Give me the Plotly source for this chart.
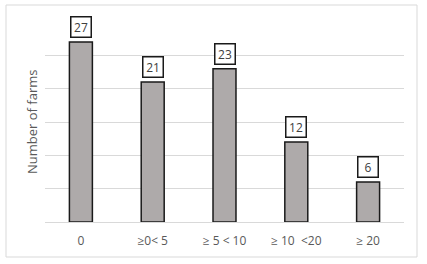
import plotly.graph_objects as go

categories = ["0", "≥0< 5", "≥ 5 < 10", "≥ 10\u00a0\u00a0<20", "≥ 20"]
farms = [27, 21, 23, 12, 6]
y_title = "Number of farms"

fig = go.Figure()
fig.add_trace(go.Bar(
    x=categories, y=farms,
    marker=dict(color="#aeaaaa", line=dict(color="#1a1a1a", width=1.5)),
    width=0.32,
))

for c, v in zip(categories, farms):
    fig.add_annotation(
        x=c, y=v, text=str(v), showarrow=False,
        yanchor="bottom", yshift=4,
        font=dict(family="Open Sans, Liberation Sans", size=12, color="#404040"),
        bgcolor="white", bordercolor="#1a1a1a", borderwidth=1.5,
        width=17, height=17, borderpad=1,
    )

fig.add_annotation(
    xref="paper", yref="paper", x=0, y=0.5, xshift=-2,
    text=y_title, textangle=-90, showarrow=False,
    xanchor="right", yanchor="middle",
    font=dict(family="Open Sans, Liberation Sans", size=13, color="#595959"),
)

fig.add_shape(type="rect", xref="paper", yref="paper",
              x0=-39/359, x1=(417-45)/359, y0=-35/200, y1=1 + 17/200,
              line=dict(color="#d9d9d9", width=1), layer="below")

fig.update_layout(
    width=427, height=264,
    margin=dict(l=45, r=23, t=22, b=42),
    paper_bgcolor="white", plot_bgcolor="white",
    showlegend=False,
    bargap=0.68,
    xaxis=dict(showgrid=False, showline=True, linecolor="#d9d9d9", linewidth=1,
               tickfont=dict(family="Open Sans, Liberation Sans", size=12, color="#595959"),
               ticks="", ticklabelstandoff=8),
    yaxis=dict(range=[0, 30], dtick=5, showgrid=True, gridcolor="#d9d9d9", gridwidth=1,
               showticklabels=False, zeroline=False, showline=False),
)

fig.write_html("out.html")
